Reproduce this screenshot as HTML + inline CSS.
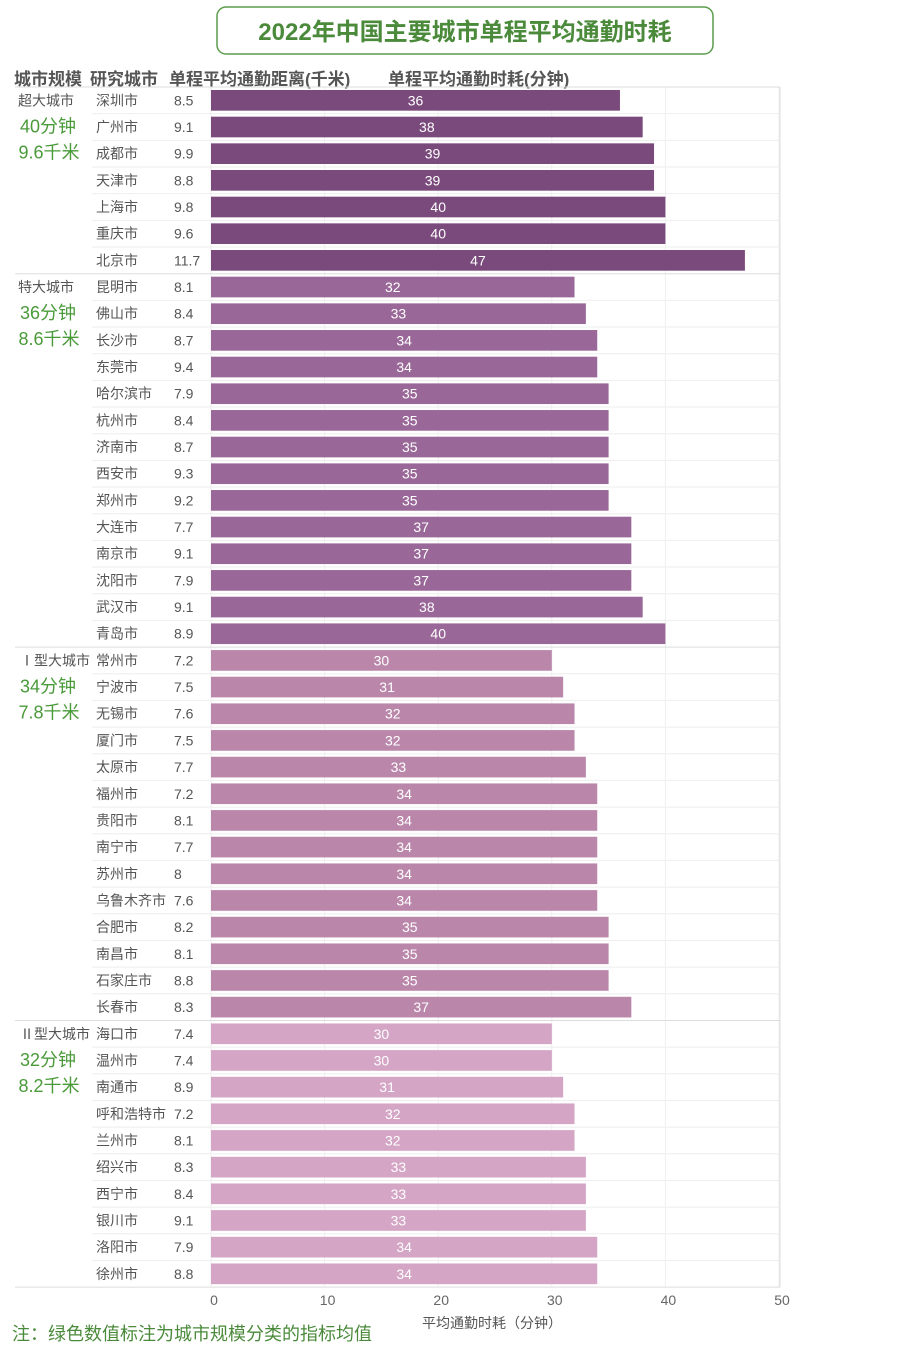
<!DOCTYPE html>
<html><head><meta charset="utf-8"><style>
body{margin:0;background:#fff;width:915px;height:1351px;overflow:hidden;font-family:"Liberation Sans","Noto Sans CJK SC",sans-serif;}
svg text{font-family:"Liberation Sans","Noto Sans CJK SC",sans-serif;}
</style></head><body>
<svg id="c" width="915" height="1351" xmlns="http://www.w3.org/2000/svg">
<rect x="217" y="7" width="496" height="47" rx="9" fill="#fff" stroke="#5c9c4c" stroke-width="1.5"/>
<text x="465" y="40" text-anchor="middle" font-size="24" font-weight="bold" fill="#4a8a3a">2022年中国主要城市单程平均通勤时耗</text>
<g font-size="17" font-weight="bold" fill="#555">
<text x="14" y="85">城市规模</text><text x="90" y="85">研究城市</text><text x="169" y="85">单程平均通勤距离(千米)</text><text x="388" y="85">单程平均通勤时耗(分钟)</text>
</g>
<g id="grid"></g><g id="rows"></g><g id="axis"></g>
<text x="492" y="1328" text-anchor="middle" font-size="14" fill="#555">平均通勤时耗（分钟）</text>
<text x="12" y="1340" font-size="18" fill="#4a8a3a">注：绿色数值标注为城市规模分类的指标均值</text>
</svg>
<script>
const cities=["深圳市","广州市","成都市","天津市","上海市","重庆市","北京市","昆明市","佛山市","长沙市","东莞市","哈尔滨市","杭州市","济南市","西安市","郑州市","大连市","南京市","沈阳市","武汉市","青岛市","常州市","宁波市","无锡市","厦门市","太原市","福州市","贵阳市","南宁市","苏州市","乌鲁木齐市","合肥市","南昌市","石家庄市","长春市","海口市","温州市","南通市","呼和浩特市","兰州市","绍兴市","西宁市","银川市","洛阳市","徐州市"];
const distances=["8.5","9.1","9.9","8.8","9.8","9.6","11.7","8.1","8.4","8.7","9.4","7.9","8.4","8.7","9.3","9.2","7.7","9.1","7.9","9.1","8.9","7.2","7.5","7.6","7.5","7.7","7.2","8.1","7.7","8","7.6","8.2","8.1","8.8","8.3","7.4","7.4","8.9","7.2","8.1","8.3","8.4","9.1","7.9","8.8"];
const times=[36,38,39,39,40,40,47,32,33,34,34,35,35,35,35,35,37,37,37,38,40,30,31,32,32,33,34,34,34,34,34,35,35,35,37,30,30,31,32,32,33,33,33,34,34];
const groupNames=["超大城市","特大城市","Ⅰ型大城市","Ⅱ型大城市"];
const groupStarts=[0,7,21,35];
const groupTimes=["40分钟","36分钟","34分钟","32分钟"];
const groupDists=["9.6千米","8.6千米","7.8千米","8.2千米"];
const ticks=[0,10,20,30,40,50];
const colors=["#7b4a7c","#9a6898","#ba87ab","#d4a5c5"];
const NS="http://www.w3.org/2000/svg";
const top0=87,rh=26.67,x0=211,xs=11.36;
const X=v=>x0+v*xs, Y=i=>top0+i*rh;
function mk(p,t,a){const e=document.createElementNS(NS,t);for(const k in a)e.setAttribute(k,a[k]);p.appendChild(e);return e;}
const grid=document.getElementById('grid'),rows=document.getElementById('rows'),axis=document.getElementById('axis');
const n=cities.length;
ticks.forEach(t=>{const l=mk(grid,'line',{x1:X(t),x2:X(t),y1:top0,y2:Y(n),stroke:'#eee','stroke-width':1});


const tx=mk(axis,'text',{x:X(t)+3,y:1305,'text-anchor':'middle','font-size':14,fill:'#666'});tx.textContent=t;

});
mk(grid,'line',{x1:780,x2:780,y1:top0,y2:Y(n),stroke:'#ddd'});
const gOf=i=>{let g=0;groupStarts.forEach((s,k)=>{if(i>=s)g=k;});return g;};
for(let i=0;i<=n;i++){const isG=groupStarts.includes(i)||i===n;
const l=mk(grid,'line',{x1:isG?15:92,x2:780,y1:Y(i),y2:Y(i),stroke:isG?'#ddd':'#eee','stroke-width':1});

}
for(let i=0;i<n;i++){const g=gOf(i),cy=Y(i)+rh/2;
const c=mk(rows,'text',{x:96,y:cy+5,'font-size':14,fill:'#555'});c.textContent=cities[i];


const d=mk(rows,'text',{x:174,y:cy+5,'font-size':14,fill:'#555'});d.textContent=distances[i];


const b=mk(rows,'rect',{x:X(0),y:Y(i)+3,width:X(times[i])-X(0),height:rh-6,fill:colors[g]});


const v=mk(rows,'text',{x:(X(0)+X(times[i]))/2,y:cy+5,'text-anchor':'middle','font-size':14,fill:'#fff'});v.textContent=times[i];

}
groupStarts.forEach((s,k)=>{const cy=Y(s)+rh/2;
const a=mk(rows,'text',{x:k>=2?20:18,y:cy+5,'font-size':14,fill:'#555'});a.textContent=groupNames[k];


const b=mk(rows,'text',{x:48,y:cy+32,'text-anchor':'middle','font-size':18,fill:'#4a9a3a'});b.textContent=groupTimes[k];


const c=mk(rows,'text',{x:49,y:cy+58,'text-anchor':'middle','font-size':18,fill:'#4a9a3a'});c.textContent=groupDists[k];

});
</script>
</body></html>
